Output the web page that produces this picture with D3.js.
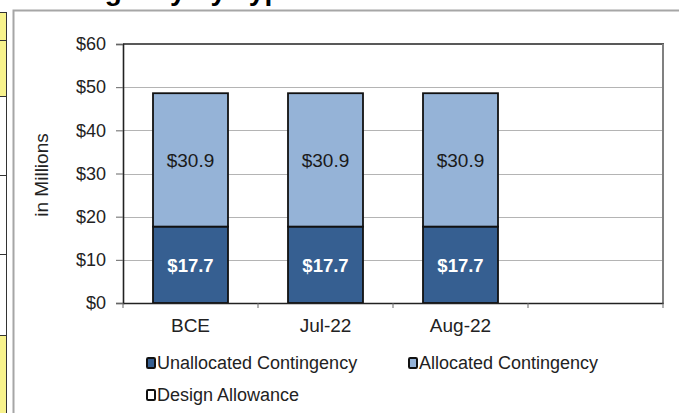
<!DOCTYPE html>
<html>
<head>
<meta charset="utf-8">
<script src="https://cdn.jsdelivr.net/npm/d3@7"></script>
<style>
  html, body { margin: 0; padding: 0; background: #fff; }
  svg { display: block; font-family: Arial, "Liberation Sans", sans-serif; }
</style>
</head>
<body>
<svg id="chart" width="679" height="413"></svg>
<script>
// Categories (the fourth slot is an empty month)
const categories = ["BCE", "Jul-22", "Aug-22", ""];
// Stacked series values, in millions
const unallocated = [17.7, 17.7, 17.7, null];
const allocated   = [30.9, 30.9, 30.9, null];
const designAllow = [0, 0, 0, null];
const seriesNames = ["Unallocated Contingency", "Allocated Contingency", "Design Allowance"];
const seriesColors = ["#365f91", "#95b3d7", "#ffffff"];
const yTicks = [0, 10, 20, 30, 40, 50, 60];
const title = "Contingency by Type";

const FONT = "Arial, 'Liberation Sans', sans-serif";
const svg = d3.select("#chart");

// Side cells of the surrounding sheet
const cellLines = [12, 40, 96, 175, 254, 335];
svg.append("rect").attr("x", 0).attr("y", 12).attr("width", 6).attr("height", 84).attr("fill", "#f7f28c");
svg.append("rect").attr("x", 0).attr("y", 335).attr("width", 6).attr("height", 80).attr("fill", "#f7f28c");
svg.append("line").attr("x1", 6.5).attr("x2", 6.5).attr("y1", 12).attr("y2", 413).attr("stroke", "#333").attr("stroke-width", 1);
cellLines.forEach(y => svg.append("line").attr("x1", 0).attr("x2", 6.5).attr("y1", y + 0.5).attr("y2", y + 0.5).attr("stroke", "#333"));

// Title (sits above the chart frame)
svg.append("text").attr("x", 16).attr("y", 0).attr("font-size", 28).attr("font-weight", "bold")
  .attr("fill", "#000").text(title);

// Chart frame
svg.append("rect").attr("x", 13.5).attr("y", 10.5).attr("width", 700).attr("height", 420)
  .attr("fill", "#fff").attr("stroke", "#a6a6a6").attr("stroke-width", 2);

const plot = { left: 123, right: 663, top: 44, bottom: 303 };

const x = d3.scaleBand().domain(d3.range(categories.length)).range([plot.left, plot.right]).paddingInner(0).paddingOuter(0);
const y = d3.scaleLinear().domain([0, 60]).range([plot.bottom, plot.top]);

// Gridlines
svg.append("g").selectAll("line").data(yTicks.filter(t => t > 0 && t < 60)).join("line")
  .attr("x1", plot.left).attr("x2", plot.right)
  .attr("y1", d => Math.round(y(d)) + 0.5).attr("y2", d => Math.round(y(d)) + 0.5)
  .attr("stroke", "#b4b4b4").attr("stroke-width", 1.2);

// Plot border: top dark, right grey
svg.append("line").attr("x1", plot.left).attr("x2", plot.right + 1).attr("y1", plot.top).attr("y2", plot.top)
  .attr("stroke", "#222").attr("stroke-width", 1.6);
svg.append("line").attr("x1", plot.right).attr("x2", plot.right).attr("y1", plot.top).attr("y2", plot.bottom + 1)
  .attr("stroke", "#808080").attr("stroke-width", 2);

// Stacked bars
const rows = categories.map((c, i) => ({ i, u: unallocated[i], a: allocated[i], d: designAllow[i] }));
const keys = ["u", "a", "d"];
const stack = d3.stack().keys(keys).value((d, k) => d[k] == null ? 0 : d[k]);
const layers = stack(rows);
const barW = 75;
layers.forEach((layer, li) => {
  svg.append("g").selectAll("rect").data(layer.filter(d => d.data[keys[li]])).join("rect")
    .attr("x", d => x(d.data.i) + x.bandwidth() / 2 - barW / 2)
    .attr("y", d => y(d[1]))
    .attr("width", barW)
    .attr("height", d => y(d[0]) - y(d[1]))
    .attr("fill", seriesColors[li])
    .attr("stroke", "#111").attr("stroke-width", 1.8);
});

// Value labels
layers.slice(0, 2).forEach((layer, li) => {
  const key = keys[li];
  svg.append("g").selectAll("text").data(layer.filter(d => d.data[key])).join("text")
    .attr("x", d => x(d.data.i) + x.bandwidth() / 2)
    .attr("y", d => (y(d[0]) + y(d[1])) / 2)
    .attr("dy", "0.38em")
    .attr("text-anchor", "middle")
    .attr("font-size", li === 0 ? 18.5 : 19)
    .attr("font-weight", li === 0 ? "bold" : "normal")
    .attr("fill", li === 0 ? "#fff" : "#1a1a1a")
    .text(d => "$" + d.data[key].toFixed(1));
});

// Y axis
const yAxis = svg.append("g").attr("transform", `translate(${plot.left},0)`)
  .call(d3.axisLeft(y).tickValues(yTicks).tickSize(7).tickPadding(10).tickFormat(d => "$" + d));
yAxis.select(".domain").attr("stroke", "#222").attr("stroke-width", 1.6);
yAxis.selectAll(".tick line").attr("stroke", "#666");
yAxis.selectAll("text").attr("font-size", 18).attr("fill", "#222").attr("font-family", FONT);

// X axis
const xAxis = svg.append("g").attr("transform", `translate(0,${plot.bottom})`)
  .call(d3.axisBottom(x).tickSize(0).tickPadding(16).tickFormat(i => categories[i]));
xAxis.select(".domain").attr("stroke", "#222").attr("stroke-width", 1.6);
xAxis.selectAll("text").attr("font-size", 19).attr("fill", "#222").attr("font-family", FONT);
// Category boundary ticks
svg.append("g").selectAll("line").data(d3.range(categories.length + 1)).join("line")
  .attr("x1", i => i < categories.length ? x(i) : plot.right)
  .attr("x2", i => i < categories.length ? x(i) : plot.right)
  .attr("y1", plot.bottom).attr("y2", plot.bottom + 5)
  .attr("stroke", "#666");

// Y axis title
svg.append("text").attr("transform", "translate(48,175) rotate(-90)")
  .attr("text-anchor", "middle").attr("font-size", 19).attr("fill", "#222").text("in Millions");

// Legend
const legendPos = [[146, 369], [408, 369], [146, 401]];
seriesNames.forEach((name, i) => {
  const g = svg.append("g").attr("transform", `translate(${legendPos[i][0]},${legendPos[i][1]})`);
  g.append("rect").attr("x", 1).attr("y", -11).attr("width", 8).attr("height", 10)
    .attr("fill", seriesColors[i]).attr("stroke", "#111").attr("stroke-width", 2).attr("rx", 1.2);
  g.append("text").attr("x", 11).attr("y", 0).attr("font-size", 18).attr("fill", "#222").text(name);
});
</script>
</body>
</html>
